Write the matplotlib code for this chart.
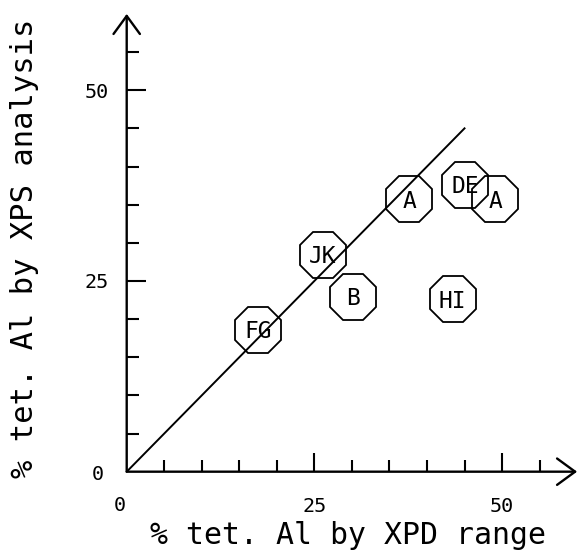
import matplotlib
matplotlib.use('Agg')
import matplotlib.pyplot as plt

# Data: sample labels and their positions
labels = ['FG', 'JK', 'B', 'A', 'DE', 'A', 'HI']
xpd = [17.5, 26.1, 30.2, 37.6, 45.1, 49.1, 43.4]
xps = [18.6, 28.4, 22.9, 35.7, 37.6, 35.7, 22.6]

# 1:1 reference line
line_x = [0, 45]
line_y = [0, 45]

major_ticks = [25, 50]
minor_ticks = [5, 10, 15, 20, 30, 35, 40, 45, 55]

plt.rcParams['font.family'] = 'DejaVu Sans Mono'

fig = plt.figure(figsize=(5.77, 5.52), dpi=100)
ax = fig.add_axes([0.2196, 0.1455, 0.7806, 0.8293])
ax.set_xlim(0, 60)
ax.set_ylim(0, 60)

for s in ax.spines.values():
    s.set_visible(False)

# axes with open arrow heads
arrow = dict(arrowstyle='->,head_length=1.3,head_width=0.95', lw=1.7,
             color='black', shrinkA=0, shrinkB=0)
ax.annotate('', xy=(60, 0), xytext=(0, 0), arrowprops=arrow,
            annotation_clip=False)
ax.annotate('', xy=(0, 60), xytext=(0, 0), arrowprops=arrow,
            annotation_clip=False)

ax.set_xticks(major_ticks)
ax.set_yticks(major_ticks)
ax.set_xticks(minor_ticks, minor=True)
ax.set_yticks(minor_ticks, minor=True)
ax.tick_params(which='both', direction='in', width=1.5, color='black')
ax.tick_params(which='major', length=13.5, labelsize=14.5)
ax.tick_params(which='minor', length=8.6)
ax.tick_params(axis='x', which='major', pad=18)
ax.tick_params(axis='y', which='major', pad=13)

# the two zero labels sit apart from the ticks
ax.annotate('0', xy=(0, 0), xytext=(-20.7, -5.8), textcoords='offset points',
            ha='center', va='baseline', fontsize=14.5, annotation_clip=False)
ax.annotate('0', xy=(0, 0), xytext=(-4.8, -28.6), textcoords='offset points',
            ha='center', va='baseline', fontsize=14.5, annotation_clip=False)

ax.plot(line_x, line_y, color='black', lw=1.4)

ax.plot(xpd, xps, linestyle='none', marker='8', markersize=36.4,
        markerfacecolor='none', markeredgecolor='black', markeredgewidth=1.3,
        clip_on=False)

for lab, x, y in zip(labels, xpd, xps):
    ax.annotate(lab, xy=(x, y), xytext=(0, -6), textcoords='offset points',
                ha='center', va='baseline', fontsize=16.5)

fig.text(348 / 577, 8 / 552, '% tet. Al by XPD range', fontsize=21.5,
         ha='center', va='baseline')
fig.text(33.3 / 577, (552 - 248.5) / 552, '% tet. Al by XPS analysis',
         fontsize=22, ha='center', va='baseline', rotation=90,
         rotation_mode='anchor')

fig.savefig('out.png', dpi=100)
